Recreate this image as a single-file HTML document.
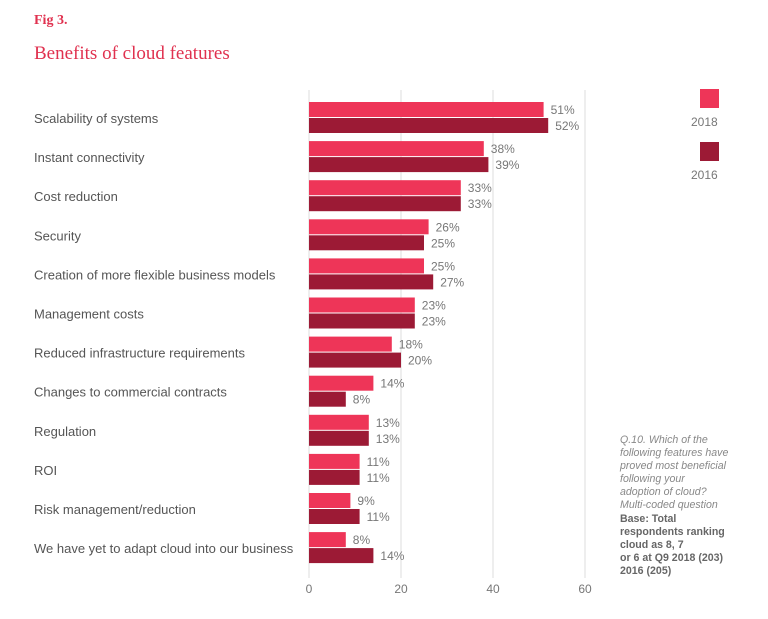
<!DOCTYPE html>
<html><head><meta charset="utf-8"><style>
body{margin:0;background:#fff;width:768px;height:614px;overflow:hidden;font-family:"Liberation Sans","DejaVu Sans",sans-serif}
svg text{font-family:"Liberation Sans","DejaVu Sans",sans-serif}
</style></head><body>
<svg id="c" width="768" height="614">
<text x="34" y="24" fill="#e0314f" font-size="14" font-weight="bold" style="font-family:'Liberation Serif',serif">Fig 3.</text>
<text x="34" y="59" fill="#e0314f" font-size="19" style="font-family:'Liberation Serif',serif">Benefits of cloud features</text>
<g id="grid"></g><g id="bars"></g>
<rect x="700" y="89" width="19" height="19" fill="#ee3558"/>
<text x="691" y="126" fill="#777" font-size="12">2018</text>
<rect x="700" y="142" width="19" height="19" fill="#9c1a35"/>
<text x="691" y="179" fill="#777" font-size="12">2016</text>
<g font-size="10.6">
<text x="620" y="443" fill="#888" font-style="italic">Q.10. Which of the</text>
<text x="620" y="456" fill="#888" font-style="italic">following features have</text>
<text x="620" y="469" fill="#888" font-style="italic">proved most beneficial</text>
<text x="620" y="482" fill="#888" font-style="italic">following your</text>
<text x="620" y="495" fill="#888" font-style="italic">adoption of cloud?</text>
<text x="620" y="508" fill="#888" font-style="italic">Multi-coded question</text>
<text x="620" y="522" fill="#666" font-weight="bold">Base: Total</text>
<text x="620" y="535" fill="#666" font-weight="bold">respondents ranking</text>
<text x="620" y="548" fill="#666" font-weight="bold">cloud as 8, 7</text>
<text x="620" y="561" fill="#666" font-weight="bold">or 6 at Q9 2018 (203)</text>
<text x="620" y="574" fill="#666" font-weight="bold">2016 (205)</text>
</g>
</svg>
<script>
const categories=["Scalability of systems","Instant connectivity","Cost reduction","Security","Creation of more flexible business models","Management costs","Reduced infrastructure requirements","Changes to commercial contracts","Regulation","ROI","Risk management/reduction","We have yet to adapt cloud into our business"];
const values2018=[51,38,33,26,25,23,18,14,13,11,9,8];
const values2016=[52,39,33,25,27,23,20,8,13,11,11,14];
const ticks=[0,20,40,60];
const NS="http://www.w3.org/2000/svg";
const x=v=>309+v*(585-309)/60;
const rowY=i=>102+i*39.1;
function mk(t,a,p){const e=document.createElementNS(NS,t);for(const k in a)e.setAttribute(k,a[k]);p.appendChild(e);return e;}
const g=document.getElementById('grid'),b=document.getElementById('bars');
ticks.forEach(t=>{
 const l=mk('line',{x1:x(t),x2:x(t),y1:90,y2:578,stroke:'#ddd','stroke-width':1},g);
 
 
 const tx=mk('text',{x:x(t),y:593,'text-anchor':'middle','font-size':12,fill:'#777'},g);tx.textContent=t;
 
 
});
categories.forEach((c,i)=>{
 const y=rowY(i);
 const lb=mk('text',{x:34,y:y+21,'font-size':13,fill:'#555'},b);lb.textContent=c;
 
 
 [[values2018[i],'#ee3558',0,'2018'],[values2016[i],'#9c1a35',16,'2016']].forEach(([v,col,off,yr])=>{
  const r=mk('rect',{x:x(0),y:y+off,width:x(v)-x(0),height:15,fill:col},b);
  
  
  const t=mk('text',{x:x(v)+7,y:y+off+12,'font-size':12,fill:'#777'},b);t.textContent=v+'%';
  
  
 });
});
</script>
</body></html>
